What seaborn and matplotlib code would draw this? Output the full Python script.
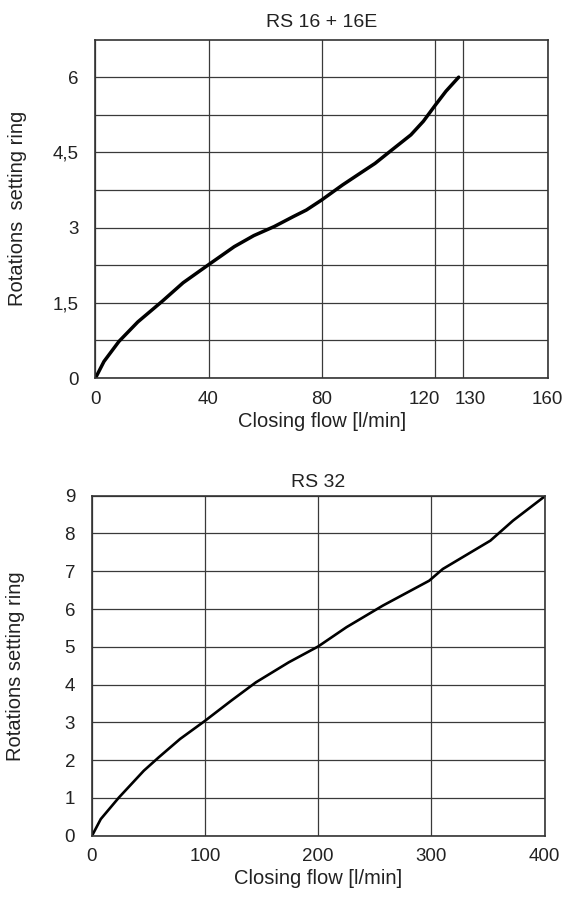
import matplotlib
matplotlib.use("Agg")
import matplotlib.pyplot as plt
import matplotlib.transforms as mtransforms
import pandas as pd
import seaborn as sns

# RS 16 + 16E curve
rs16_flow = [0, 3, 8.3, 15, 23.6, 31, 40, 49.1, 56, 63.2, 70, 74.6, 80, 87.4, 93, 98.9,
             104, 111.6, 116, 120.2, 124, 128.5]
rs16_rot = [0, 0.33, 0.73, 1.12, 1.53, 1.9, 2.26, 2.62, 2.84, 3.02, 3.22, 3.35, 3.55, 3.85,
            4.06, 4.28, 4.51, 4.85, 5.12, 5.44, 5.72, 6.0]
rs16_xticks = [0, 40, 80, 120, 130, 160]
rs16_yticks = [0, 1.5, 3, 4.5, 6]
rs16_ylabels = ["0", "1,5", "3", "4,5", "6"]

# RS 32 curve
rs32_flow = [1, 8, 24, 46, 59, 78, 100, 123, 145, 174, 200, 225, 257, 298, 310, 352, 372, 399]
rs32_rot = [0.04, 0.44, 1.01, 1.72, 2.07, 2.56, 3.04, 3.57, 4.06, 4.59, 5.01, 5.52, 6.09,
            6.75, 7.06, 7.81, 8.34, 8.96]
rs32_xticks = [0, 100, 200, 300, 400]
rs32_yticks = [0, 1, 2, 3, 4, 5, 6, 7, 8, 9]

sns.set_style("white")
plt.rcParams["font.family"] = ["Liberation Sans", "DejaVu Sans"]

fig = plt.figure(figsize=(5.66, 8.99), dpi=100)
ax1 = fig.add_axes([0.1687, 0.5795, 0.799, 0.3765])
ax2 = fig.add_axes([0.162, 0.0704, 0.8004, 0.3782])

grid_kw = dict(color="#3a3a3a", linewidth=0.9)
text_col = "#222222"

df1 = pd.DataFrame({"flow": rs16_flow, "rot": rs16_rot})
sns.lineplot(data=df1, x="flow", y="rot", ax=ax1, color="black", linewidth=2.5, sort=False)
ax1.set_xlim(0, 160)
ax1.set_ylim(0, 6.75)
ax1.set_xticks(rs16_xticks)
ax1.set_yticks(rs16_yticks)
ax1.set_yticklabels(rs16_ylabels)
ax1.set_yticks([0.75, 2.25, 3.75, 5.25], minor=True)
ax1.grid(True, which="both", **grid_kw)
ax1.set_title("RS 16 + 16E", fontsize=14, pad=9, color=text_col)
ax1.set_xlabel("Closing flow [l/min]", fontsize=14.5, labelpad=3, color=text_col)
ax1.set_ylabel("Rotations  setting ring", fontsize=14.5, color=text_col)
ax1.yaxis.set_label_coords(-0.152, 0.5)

df2 = pd.DataFrame({"flow": rs32_flow, "rot": rs32_rot})
sns.lineplot(data=df2, x="flow", y="rot", ax=ax2, color="black", linewidth=1.9, sort=False)
ax2.set_xlim(0, 400)
ax2.set_ylim(0, 9)
ax2.set_xticks(rs32_xticks)
ax2.set_yticks(rs32_yticks)
ax2.grid(True, **grid_kw)
ax2.set_title("RS 32", fontsize=14, pad=6, color=text_col)
ax2.set_xlabel("Closing flow [l/min]", fontsize=14.5, labelpad=3, color=text_col)
ax2.set_ylabel("Rotations setting ring", fontsize=14.5, color=text_col)
ax2.yaxis.set_label_coords(-0.147, 0.5)

for ax in (ax1, ax2):
    ax.set_axisbelow(True)
    ax.tick_params(axis="both", which="both", length=0, labelsize=13.5, colors=text_col)
    ax.tick_params(axis="x", pad=9)
    ax.tick_params(axis="y", pad=12)
    for s in ax.spines.values():
        s.set_color("#333333")
        s.set_linewidth(1.2)

# push the crowded 120 / 130 labels apart, as in the original
labels = ax1.get_xticklabels()
for lab, dx in ((labels[3], -0.10), (labels[4], 0.07)):
    lab.set_transform(lab.get_transform() + mtransforms.ScaledTranslation(dx, 0, fig.dpi_scale_trans))

fig.savefig("out.png", dpi=100)
